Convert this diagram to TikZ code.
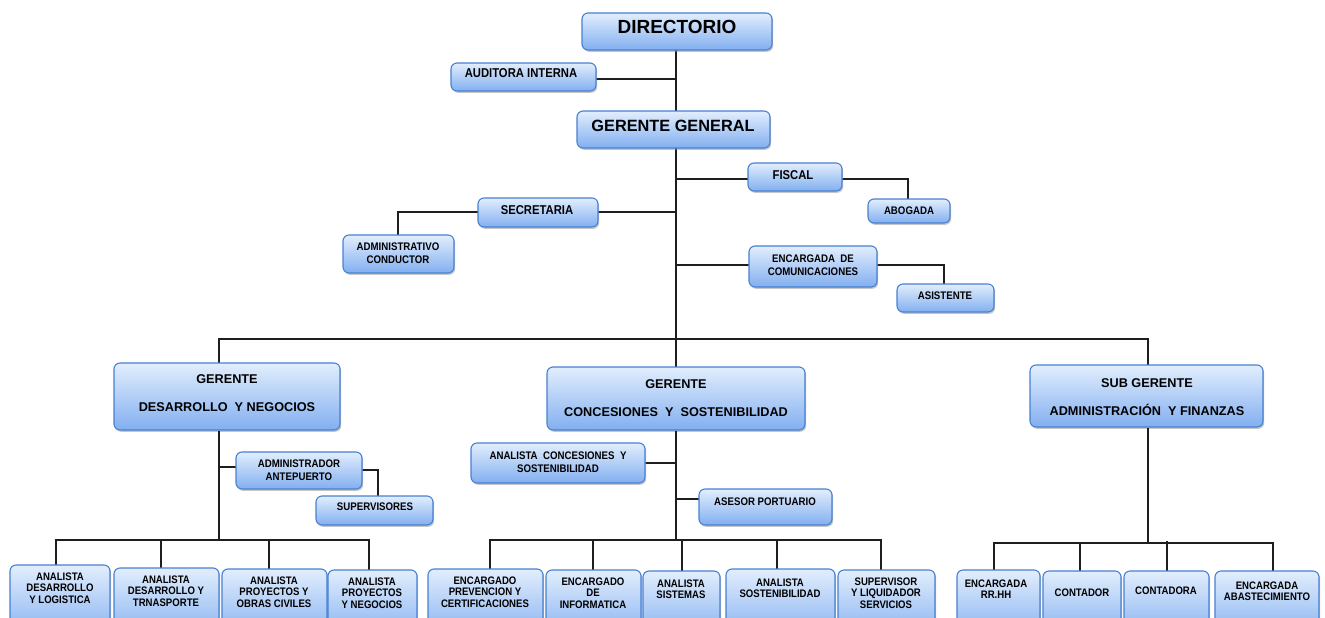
\documentclass[tikz,border=0pt]{standalone}
\usepackage{fontspec}
\setmainfont{Liberation Sans}
\newfontfamily\cond[FakeStretch=0.88]{Liberation Sans}
\usetikzlibrary{fit,shadows}
\definecolor{boxtop}{RGB}{226,238,253}
\definecolor{boxbot}{RGB}{130,175,240}
\definecolor{boxedge}{RGB}{72,128,210}
\definecolor{linec}{RGB}{30,30,30}
\tikzset{
  box/.style={draw=boxedge, line width=1.1pt, rounded corners=6pt,
    top color=boxtop, bottom color=boxbot, inner sep=0pt,
    drop shadow={shadow xshift=1.2pt, shadow yshift=-1.8pt, fill=black!45, opacity=0.5}},
  conn/.style={draw=linec, line width=1.3pt},
  tx/.style={align=center, inner sep=0pt, text=black},
  tdir/.style={tx, font=\fontsize{19}{22}\selectfont\bfseries},
  tgg/.style={tx, font=\fontsize{16.3}{19}\selectfont\bfseries},
  tman/.style={tx, font=\fontsize{12.7}{28}\selectfont\bfseries},
  tmed/.style={tx, font=\cond\bfseries\fontsize{12.8}{14}\selectfont},
  tsm/.style={tx, font=\cond\bfseries\fontsize{11}{12.6}\selectfont},
  tbot/.style={tx, font=\cond\bfseries\fontsize{10.9}{11.5}\selectfont},
}
\newcommand\orgbox[5]{\node[box, fit={(#2,#3) (#4,#5)}] (#1) {};}
\begin{document}
\begin{tikzpicture}[x=1pt,y=-1pt]
\useasboundingbox (0,0) rectangle (1325,618);
\clip (0,0) rectangle (1325,618);
% key coordinates
\coordinate (sp) at (676,0);
\coordinate (bus) at (676,339);
\coordinate (ld) at (219,0);
\coordinate (lb) at (219,540);
\coordinate (cb) at (676,540);
\coordinate (rb) at (1148,543);

% connectors (drawn first, boxes on top)
\draw[conn] (676,50) -- (676,111);
\draw[conn] (596,79) -- (676,79);
\draw[conn] (676,148) -- (bus);
\draw[conn] (748,179) -- (676,179);
\draw[conn] (598,212) -- (676,212);
\draw[conn] (749,265) -- (676,265);
\draw[conn] (842,179) -| (908,199);
\draw[conn] (478,212) -| (398,235);
\draw[conn] (877,265) -| (944,284);
\draw[conn] (219,363) |- (bus) -| (1148,365);
\draw[conn] (bus) -- (676,367);

% boxes
\orgbox{dir}{582}{13}{772}{50}
\orgbox{aud}{451}{63}{596}{91}
\orgbox{gg}{577}{111}{770}{148}
\orgbox{fis}{748}{163}{842}{191}
\orgbox{abo}{868}{199}{950}{223}
\orgbox{sec}{478}{198}{598}{227}
\orgbox{adm}{343}{235}{454}{273}
\orgbox{enc}{749}{246}{877}{287}
\orgbox{asi}{897}{284}{994}{312}
\orgbox{gdes}{114}{363}{340}{430}
\orgbox{gcon}{547}{367}{805}{430}
\orgbox{gsub}{1030}{365}{1263}{427}

% lower connectors
\draw[conn] (gdes.south -| ld) -- (lb);
\draw[conn] (lb |- 0,467) -- (236,467);
\draw[conn] (362,470) -| (378,496);
\draw[conn] (gcon.south -| cb) -- (cb);
\draw[conn] (645,463) -- (cb |- 0,463);
\draw[conn] (699,499) -- (cb |- 0,499);
\draw[conn] (gsub.south -| rb) -- (rb);

\orgbox{ant}{236}{452}{362}{489}
\orgbox{sup}{316}{496}{433}{525}
\orgbox{acs}{471}{443}{645}{483}
\orgbox{ase}{699}{489}{832}{525}

% bottom buses
\draw[conn] (56,565) |- (lb) -| (369,570);
\draw[conn] (161,568) -- (161,540);
\draw[conn] (269,569) -- (269,540);
\draw[conn] (490,569) |- (cb) -| (881,570);
\draw[conn] (593,570) -- (593,540);
\draw[conn] (682,571) -- (682,540);
\draw[conn] (777,569) -- (777,540);
\draw[conn] (994,570) |- (rb) -| (1273,571);
\draw[conn] (1080,571) -- (1080,543);
\draw[conn] (1167,571) -- (1167,541);

\orgbox{a1}{10}{565}{110}{640}
\orgbox{a2}{114}{568}{219}{640}
\orgbox{a3}{222}{569}{327}{640}
\orgbox{a4}{328}{570}{417}{640}
\orgbox{c1}{428}{569}{543}{640}
\orgbox{c2}{546}{570}{641}{640}
\orgbox{c3}{643}{571}{720}{640}
\orgbox{c4}{726}{569}{835}{640}
\orgbox{c5}{838}{570}{935}{640}
\orgbox{r1}{957}{570}{1040}{640}
\orgbox{r2}{1043}{571}{1121}{640}
\orgbox{r3}{1124}{571}{1209}{640}
\orgbox{r4}{1215}{571}{1319}{640}

% texts
\node[tdir] (dir-t) at (677,27) {DIRECTORIO};
\node[tmed] (aud-t) at (521,73) {AUDITORA INTERNA};
\node[tgg] (gg-t) at (673,126) {GERENTE GENERAL};
\node[tmed] (fis-t) at (793,175) {FISCAL};
\node[tsm] (abo-t) at (909,211) {ABOGADA};
\node[tmed] (sec-t) at (537,210) {SECRETARIA};
\node[tsm] (adm-t) at (398,253) {ADMINISTRATIVO\\CONDUCTOR};
\node[tsm] (enc-t) at (813,265.5) {ENCARGADA\ \ DE\\COMUNICACIONES};
\node[tsm] (asi-t) at (945,296) {ASISTENTE};
\node[tman] (gdes-t) at (227,393) {GERENTE\\DESARROLLO\ \ Y NEGOCIOS};
\node[tman] (gcon-t) at (676,398) {GERENTE\\CONCESIONES\ \ Y\ \ SOSTENIBILIDAD};
\node[tman] (gsub-t) at (1147,397.5) {SUB GERENTE\\ADMINISTRACIÓN\ \ Y FINANZAS};
\node[tsm] (ant-t) at (299,470) {ADMINISTRADOR\\ANTEPUERTO};
\node[tsm] (sup-t) at (375,507) {SUPERVISORES};
\node[tsm] (acs-t) at (558,462.5) {ANALISTA\ \ CONCESIONES\ \ Y\\SOSTENIBILIDAD};
\node[tsm] (ase-t) at (765,502) {ASESOR PORTUARIO};

\node[tbot] (a1-t) at (60,588) {ANALISTA\\DESARROLLO\\Y LOGISTICA};
\node[tbot] (a2-t) at (166,591) {ANALISTA\\DESARROLLO Y\\TRNASPORTE};
\node[tbot] (a3-t) at (274,592) {ANALISTA\\PROYECTOS Y\\OBRAS CIVILES};
\node[tbot] (a4-t) at (372,593) {ANALISTA\\PROYECTOS\\Y NEGOCIOS};
\node[tbot] (c1-t) at (485,592) {ENCARGADO\\PREVENCION Y\\CERTIFICACIONES};
\node[tbot] (c2-t) at (593,593) {ENCARGADO\\DE\\INFORMATICA};
\node[tbot] (c3-t) at (681,589) {ANALISTA\\SISTEMAS};
\node[tbot] (c4-t) at (780,588) {ANALISTA\\SOSTENIBILIDAD};
\node[tbot] (c5-t) at (886,593) {SUPERVISOR\\Y LIQUIDADOR\\SERVICIOS};
\node[tbot] (r1-t) at (996,589) {ENCARGADA\\RR.HH};
\node[tbot] (r2-t) at (1082,593) {CONTADOR};
\node[tbot] (r3-t) at (1166,591) {CONTADORA};
\node[tbot] (r4-t) at (1267,591) {ENCARGADA\\ABASTECIMIENTO};
\end{tikzpicture}
\end{document}
